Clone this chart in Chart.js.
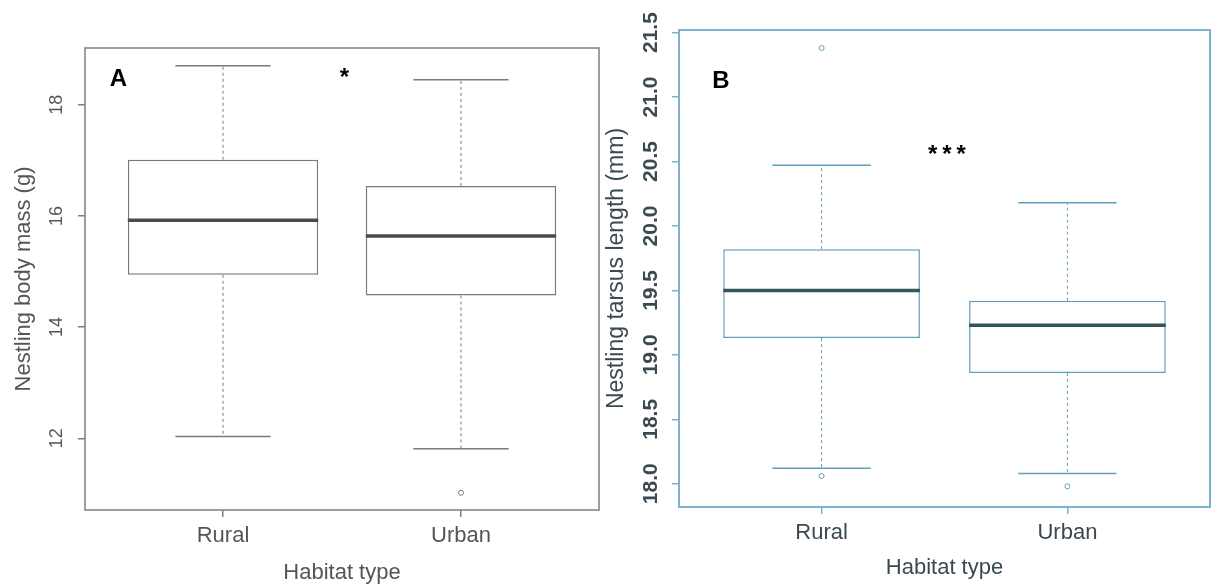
<!DOCTYPE html>
<html>
<head>
<meta charset="utf-8">
<script src="https://cdn.jsdelivr.net/npm/chart.js@4.4.1/dist/chart.umd.min.js"></script>
<style>
    html, body { margin: 0; padding: 0; background: #fff; }
    #wrap { position: relative; width: 1211px; height: 587px; overflow: hidden; }
    .panel { position: absolute; top: 0; height: 587px; }
    #panelA { left: 0; width: 600px; }
    #panelB { left: 600px; width: 611px; }
</style>
</head>
<body>
<div id="wrap">
    <div class="panel" id="panelA"><canvas id="chartA"></canvas></div>
    <div class="panel" id="panelB"><canvas id="chartB"></canvas></div>
</div>
<script>
// ---------------- Datos ----------------

const habitats = ['Rural', 'Urban'];

// A: nestling body mass (g)
const massMin = [12.03, 11.81];
const massQ1 = [14.94, 14.57];
const massMedian = [15.92, 15.64];
const massQ3 = [17.01, 16.54];
const massMax = [18.70, 18.45];
const massOutliers = [[], [11.02]];
const massTicks = [12, 14, 16, 18];

// B: nestling tarsus length (mm)
const tarsusMin = [18.12, 18.08];
const tarsusQ1 = [19.13, 18.86];
const tarsusMedian = [19.50, 19.23];
const tarsusQ3 = [19.82, 19.42];
const tarsusMax = [20.47, 20.18];
const tarsusOutliers = [[21.38, 18.06], [17.98]];
const tarsusTicks = [18, 18.5, 19, 19.5, 20, 20.5, 21, 21.5];

const FONT = "'Liberation Sans', Arial, sans-serif";

// ---------------- Segmentos del boxplot ----------------

function hSegments(values, half) {
    const pts = [];
    values.forEach((v, i) => {
        pts.push({ x: i + 1 - half, y: v }, { x: i + 1 + half, y: v }, { x: i + 1, y: null });
    });
    return pts;
}

function whiskerSegments(q1, q3, min, max) {
    const pts = [];
    q1.forEach((_, i) => {
        pts.push({ x: i + 1, y: q3[i] }, { x: i + 1, y: max[i] }, { x: i + 1, y: null });
        pts.push({ x: i + 1, y: q1[i] }, { x: i + 1, y: min[i] }, { x: i + 1, y: null });
    });
    return pts;
}

function outlierPoints(outliers) {
    return outliers.flatMap((list, i) => list.map(v => ({ x: i + 1, y: v })));
}

// ---------------- Plugin: marco, etiquetas rotadas y notas ----------------

function makeFramePlugin(cfg) {
    return {
        id: 'rFrame' + cfg.name,
        afterDatasetsDraw(chart) {
            const { ctx, chartArea: a, scales: { x, y } } = chart;
            ctx.save();
            ctx.strokeStyle = cfg.frameColor;
            ctx.lineWidth = cfg.frameWidth;
            ctx.strokeRect(a.left, a.top, a.right - a.left, a.bottom - a.top);

            ctx.fillStyle = cfg.tickColor;
            ctx.font = cfg.tickFont;
            ctx.textAlign = 'center';
            ctx.textBaseline = 'middle';
            y.ticks.forEach(t => {
                ctx.save();
                ctx.translate(a.left - cfg.tickOffset, y.getPixelForValue(t.value));
                ctx.rotate(-Math.PI / 2);
                ctx.fillText(t.value.toFixed(cfg.decimals), 0, 0);
                ctx.restore();
            });

            cfg.notes.forEach(n => {
                ctx.fillStyle = '#000';
                ctx.font = n.font;
                ctx.letterSpacing = n.spacing || '0px';
                ctx.fillText(n.text, x.getPixelForValue(n.x), y.getPixelForValue(n.y));
            });
            ctx.restore();
        }
    };
}

// ---------------- Plantilla de gráfica ----------------

function createBoxChart(id, s) {
    const ctx = document.getElementById(id);
    const boxes = s.q1.map((v, i) => ({ x: i + 1, y: [v, s.q3[i]] }));

    return new Chart(ctx, {
        type: 'bar',
        data: {
            datasets: [
                {
                    type: 'line', order: 0,
                    data: hSegments(s.median, 0.4),
                    borderColor: s.medianColor, borderWidth: 3.5,
                    pointRadius: 0, spanGaps: false
                },
                {
                    type: 'scatter', order: 1,
                    data: outlierPoints(s.outliers),
                    pointStyle: 'circle', pointRadius: 2.5,
                    borderColor: s.lineColor, borderWidth: 1,
                    backgroundColor: 'rgba(0,0,0,0)'
                },
                {
                    type: 'line', order: 2,
                    data: hSegments(s.max, 0.2).concat(hSegments(s.min, 0.2)),
                    borderColor: s.lineColor, borderWidth: 1.5,
                    pointRadius: 0, spanGaps: false
                },
                {
                    type: 'line', order: 3,
                    data: whiskerSegments(s.q1, s.q3, s.min, s.max),
                    borderColor: s.lineColor, borderWidth: 1,
                    borderDash: [3, 3],
                    pointRadius: 0, spanGaps: false
                },
                {
                    type: 'bar', order: 4,
                    data: boxes,
                    backgroundColor: '#ffffff',
                    borderColor: s.lineColor, borderWidth: 1.5,
                    borderSkipped: false,
                    categoryPercentage: 1, barPercentage: 0.8
                }
            ]
        },
        options: {
            responsive: true,
            maintainAspectRatio: false,
            animation: false,
            layout: {
                autoPadding: false,
                padding: { top: s.padTop, right: 1, left: 0, bottom: 0 }
            },
            plugins: {
                legend: { display: false },
                tooltip: { enabled: false }
            },
            scales: {
                x: {
                    type: 'linear', min: 0.42, max: 2.58, offset: false,
                    afterBuildTicks: sc => { sc.ticks = habitats.map((_, i) => ({ value: i + 1 })); },
                    afterFit: sc => {
                        sc.height = s.xHeight;
                        sc.paddingLeft = 0;
                        sc.paddingRight = 0;
                    },
                    ticks: {
                        callback: v => habitats[v - 1] ?? '',
                        font: { family: FONT, size: 22, weight: s.labelWeight },
                        color: s.textColor, padding: 6, maxRotation: 0, autoSkip: false
                    },
                    grid: { drawOnChartArea: false, offset: false, tickLength: 7, color: s.frameColor, lineWidth: 1.5 },
                    border: { display: false },
                    title: {
                        display: true, text: 'Habitat type',
                        font: { family: FONT, size: 22, weight: s.labelWeight },
                        color: s.textColor, padding: { top: 0, bottom: s.xTitlePad }
                    }
                },
                y: {
                    min: s.yMin, max: s.yMax,
                    afterBuildTicks: sc => { sc.ticks = s.ticks.map(v => ({ value: v })); },
                    afterFit: sc => { sc.width = s.yWidth; },
                    ticks: { display: false },
                    grid: { drawOnChartArea: false, tickLength: 7, color: s.frameColor, lineWidth: 1.5 },
                    border: { display: false },
                    title: {
                        display: true, text: s.yTitle,
                        font: { family: FONT, size: s.yTitleSize, weight: s.labelWeight },
                        color: s.textColor, padding: { top: s.titlePad, bottom: 0 }
                    }
                }
            }
        },
        plugins: [makeFramePlugin({
            name: id,
            frameColor: s.frameColor, frameWidth: s.frameWidth,
            tickColor: s.textColor, tickFont: s.tickFont,
            tickOffset: 28, decimals: s.decimals,
            notes: s.notes
        })]
    });
}

// ---------------- Panel A ----------------

createBoxChart('chartA', {
    q1: massQ1, q3: massQ3, median: massMedian, min: massMin, max: massMax,
    outliers: massOutliers, ticks: massTicks,
    yMin: 10.71, yMax: 19.02, decimals: 0,
    yTitle: 'Nestling body mass (g)',
    lineColor: '#7a7a7a', medianColor: '#4a4a4a', frameColor: '#7f7f7f', frameWidth: 1.5,
    textColor: '#555555', labelWeight: 'normal', tickFont: "18px " + FONT,
    padTop: 48, xHeight: 77, yWidth: 85, titlePad: 11, xTitlePad: 1, yTitleSize: 22,
    notes: [
        { text: 'A', x: 0.56, y: 18.45, font: "bold 24px " + FONT },
        { text: '*', x: 1.51, y: 18.48, font: "bold 24px " + FONT }
    ]
});

// ---------------- Panel B ----------------

createBoxChart('chartB', {
    q1: tarsusQ1, q3: tarsusQ3, median: tarsusMedian, min: tarsusMin, max: tarsusMax,
    outliers: tarsusOutliers, ticks: tarsusTicks,
    yMin: 17.82, yMax: 21.52, decimals: 1,
    yTitle: 'Nestling tarsus length (mm)',
    lineColor: '#5f9fbd', medianColor: '#34535d', frameColor: '#7db3cf', frameWidth: 2,
    textColor: '#3a4a50', labelWeight: 'normal', tickFont: "bold 21px " + FONT,
    padTop: 30, xHeight: 80, yWidth: 79, titlePad: 3, xTitlePad: 6, yTitleSize: 23,
    notes: [
        { text: 'B', x: 0.59, y: 21.12, font: "bold 24px " + FONT },
        { text: '***', x: 1.52, y: 20.55, font: "bold 24px " + FONT, spacing: '5px' }
    ]
});
</script>
</body>
</html>
